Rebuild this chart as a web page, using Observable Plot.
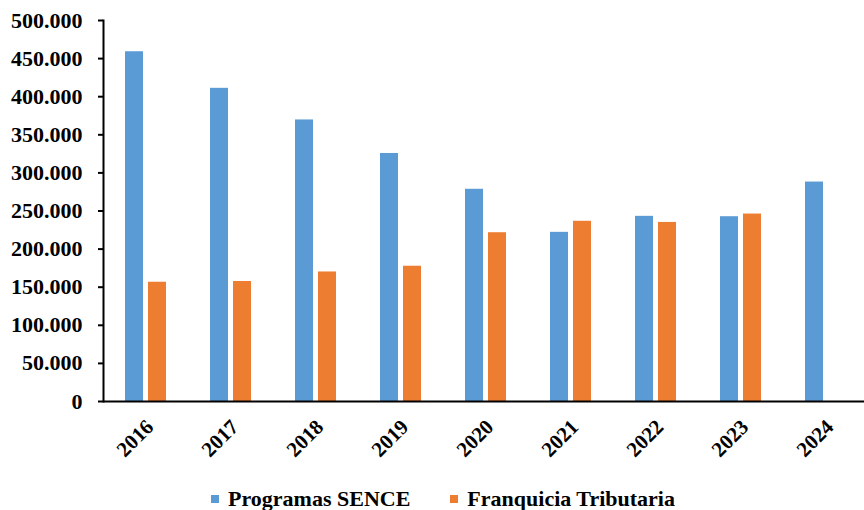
<!DOCTYPE html>
<html>
<head>
<meta charset="utf-8">
<script src="https://cdn.jsdelivr.net/npm/d3@7"></script>
<script src="https://cdn.jsdelivr.net/npm/@observablehq/plot@0.6"></script>
<style>
  body { margin: 0; background: #fff; }
  #chart { width: 864px; font-family: 'Liberation Serif'; overflow: hidden; }
  #chart svg, #chart svg text { font-family: 'Liberation Serif' !important; }
  .legend { display: flex; justify-content: center; gap: 40px; font-family: 'Liberation Serif'; font-weight: bold; font-size: 22px; line-height: 24px; margin-top: 5px; padding-left: 22px; }
  .legend span { display: inline-flex; align-items: center; }
  .legend i { display: inline-block; width: 8px; height: 8px; margin-right: 9px; }
</style>
</head>
<body>
<div id="chart"></div>
<script>
// Participants per year, by training channel
const years = ["2016", "2017", "2018", "2019", "2020", "2021", "2022", "2023", "2024"];
const series = ["Programas SENCE", "Franquicia Tributaria"];
const programasSence = [459000, 411000, 369500, 325500, 278500, 222000, 243000, 242500, 288000];
const franquiciaTributaria = [156500, 157500, 170000, 177500, 221500, 236500, 235000, 246000, null];
const colors = ["#5b9bd5", "#ed7d31"];
const yTicks = [0, 50000, 100000, 150000, 200000, 250000, 300000, 350000, 400000, 450000, 500000];

const rows = years.flatMap((year, i) => [
  {year, series: series[0], value: programasSence[i]},
  {year, series: series[1], value: franquiciaTributaria[i]}
]).filter(d => d.value != null);

const fmt = d => d3.format(",")(d).replace(/,/g, ".");

const chart = Plot.plot({
  width: 864,
  height: 482,
  marginLeft: 101,
  marginRight: -5,
  marginTop: 20,
  marginBottom: 81,
  style: "font-family: 'Liberation Serif'; font-weight: bold; font-size: 22px; color: #000; background: #fff; overflow: hidden;",
  fx: {domain: years, padding: 0, label: null, axis: null},
  x: {domain: series, paddingInner: 0.21, paddingOuter: 0.88, align: 0.5, axis: null},
  y: {domain: [0, 500000], label: null, axis: null},
  color: {domain: series, range: colors},
  marks: [
    Plot.barY(rows, {fx: "year", x: "series", y: "value", fill: "series"}),
    Plot.ruleY([0], {stroke: "#000", strokeWidth: 2}),
    Plot.frame({anchor: "left", facetAnchor: "left", stroke: "#000", strokeWidth: 2}),
    Plot.axisY({ticks: yTicks, tickFormat: fmt, tickSize: 5, tickPadding: 16, label: null, strokeWidth: 2}),
    Plot.axisFx({anchor: "bottom", tickRotate: -45, tickSize: 0, tickPadding: 22, dx: 4, label: null, fontSize: 21})
  ]
});

document.getElementById("chart").append(chart);

const legend = document.createElement("div");
legend.className = "legend";
series.forEach((s, i) => {
  const item = document.createElement("span");
  const sw = document.createElement("i");
  sw.style.background = colors[i];
  item.append(sw, s);
  legend.append(item);
});
document.getElementById("chart").append(legend);
</script>
</body>
</html>
